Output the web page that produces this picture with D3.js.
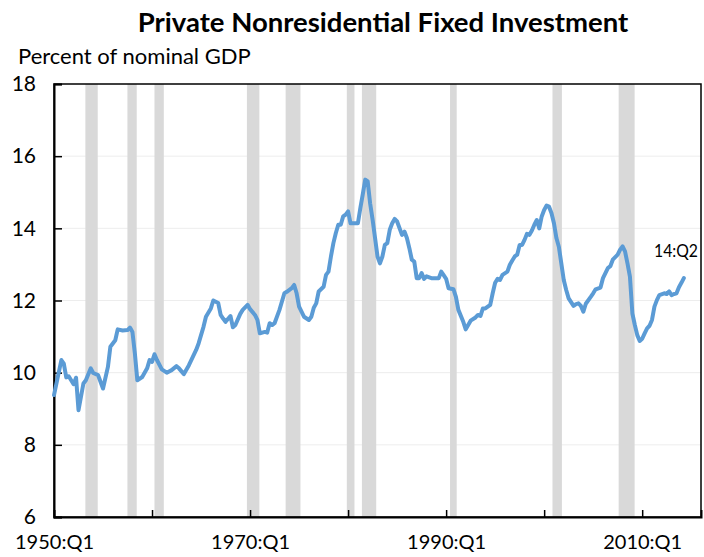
<!DOCTYPE html>
<html>
<head>
<meta charset="utf-8">
<script src="https://cdn.jsdelivr.net/npm/d3@7"></script>
<style>
  body { margin: 0; background: #fff; }
  svg text { font-family: Lato, "Open Sans", sans-serif; fill: #000; }
</style>
</head>
<body>
<div id="chart"></div>
<script>
// quarterly readings, percent of nominal GDP
const quarters = [
  "1950:Q1","1950:Q4","1951:Q1","1951:Q2","1951:Q3","1951:Q4","1952:Q1","1952:Q2","1952:Q3",
  "1953:Q1","1953:Q2","1953:Q4","1954:Q1","1954:Q3","1955:Q1","1955:Q3","1955:Q4","1956:Q2",
  "1956:Q3","1957:Q1","1957:Q3","1957:Q4","1958:Q1","1958:Q2","1958:Q3","1959:Q1","1959:Q3",
  "1959:Q4","1960:Q1","1960:Q2","1960:Q3","1961:Q1","1961:Q3","1962:Q1","1962:Q3","1962:Q4",
  "1963:Q2","1963:Q4","1964:Q3","1964:Q4","1965:Q2","1965:Q3","1966:Q1","1966:Q2","1966:Q4",
  "1967:Q1","1967:Q2","1967:Q3","1968:Q1","1968:Q2","1968:Q3","1969:Q1","1969:Q2","1969:Q4",
  "1970:Q1","1970:Q3","1970:Q4","1971:Q1","1971:Q3","1971:Q4","1972:Q1","1972:Q2","1972:Q3",
  "1973:Q1","1973:Q3","1973:Q4","1974:Q2","1974:Q3","1974:Q4","1975:Q1","1975:Q3","1976:Q1",
  "1976:Q2","1976:Q3","1976:Q4","1977:Q1","1977:Q3","1977:Q4","1978:Q1","1978:Q2","1978:Q3",
  "1978:Q4","1979:Q1","1979:Q2","1979:Q3","1979:Q4","1980:Q1","1980:Q2","1980:Q4","1981:Q1",
  "1981:Q2","1981:Q3","1981:Q4","1982:Q1","1982:Q2","1982:Q3","1982:Q4","1983:Q1","1983:Q2",
  "1983:Q3","1983:Q4","1984:Q1","1984:Q2","1984:Q3","1984:Q4","1985:Q1","1985:Q3","1985:Q4",
  "1986:Q1","1986:Q2","1986:Q3","1986:Q4","1987:Q1","1987:Q2","1987:Q3","1987:Q4","1988:Q1",
  "1988:Q3","1988:Q4","1989:Q2","1989:Q3","1989:Q4","1990:Q1","1990:Q2","1990:Q4","1991:Q1",
  "1991:Q2","1991:Q4","1992:Q1","1992:Q2","1992:Q3","1993:Q1","1993:Q2","1993:Q3","1993:Q4",
  "1994:Q1","1994:Q3","1994:Q4","1995:Q1","1995:Q2","1995:Q3","1995:Q4","1996:Q2","1996:Q3",
  "1996:Q4","1997:Q1","1997:Q2","1997:Q3","1997:Q4","1998:Q1","1998:Q2","1998:Q3","1998:Q4",
  "1999:Q1","1999:Q2","1999:Q3","1999:Q4","2000:Q1","2000:Q2","2000:Q3","2000:Q4","2001:Q1",
  "2001:Q2","2001:Q3","2001:Q4","2002:Q1","2002:Q2","2002:Q3","2003:Q1","2003:Q2","2003:Q3",
  "2003:Q4","2004:Q1","2004:Q2","2004:Q4","2005:Q1","2005:Q2","2005:Q4","2006:Q1","2006:Q2",
  "2006:Q3","2006:Q4","2007:Q1","2007:Q3","2007:Q4","2008:Q1","2008:Q2","2008:Q3","2008:Q4",
  "2009:Q1","2009:Q2","2009:Q3","2009:Q4","2010:Q1","2010:Q2","2010:Q3","2010:Q4","2011:Q1",
  "2011:Q2","2011:Q3","2011:Q4","2012:Q2","2012:Q3","2012:Q4","2013:Q1","2013:Q2","2013:Q3",
  "2013:Q4","2014:Q1","2014:Q2"
];
const investment = [
  9.38,10.35,10.25,9.87,9.90,9.79,9.68,9.86,8.96,
  9.70,9.79,10.12,9.99,9.93,9.56,10.16,10.72,10.90,
  11.20,11.17,11.18,11.25,11.13,10.53,9.79,9.88,10.12,
  10.35,10.30,10.51,10.35,10.09,10.00,10.07,10.18,10.12,
  9.96,10.20,10.63,10.81,11.27,11.55,11.78,12.00,11.93,
  11.60,11.50,11.41,11.57,11.26,11.32,11.63,11.74,11.88,
  11.76,11.60,11.46,11.09,11.13,11.11,11.37,11.32,11.37,
  11.74,12.20,12.24,12.34,12.43,12.20,11.83,11.55,11.46,
  11.55,11.80,11.92,12.25,12.38,12.71,12.80,13.22,13.59,
  13.87,14.10,14.10,14.33,14.38,14.47,14.14,14.14,14.14,
  14.56,14.95,15.35,15.30,14.69,14.24,13.73,13.22,13.03,
  13.22,13.54,13.59,13.96,14.14,14.26,14.19,13.82,13.91,
  13.73,13.45,13.13,13.08,12.62,12.62,12.76,12.60,12.67,
  12.62,12.62,12.62,12.80,12.70,12.60,12.34,12.31,12.10,
  11.74,11.41,11.20,11.32,11.44,11.53,11.60,11.57,11.78,
  11.78,11.88,12.20,12.49,12.60,12.57,12.71,12.80,12.99,
  13.11,13.22,13.27,13.54,13.54,13.68,13.85,13.82,13.94,
  14.10,14.23,14.00,14.33,14.51,14.63,14.60,14.42,14.14,
  13.73,13.49,13.03,12.57,12.29,12.06,11.85,11.90,11.92,
  11.85,11.69,11.91,12.10,12.20,12.31,12.36,12.62,12.76,
  12.90,12.95,13.13,13.27,13.41,13.50,13.36,13.03,12.66,
  11.64,11.32,11.04,10.88,10.94,11.09,11.23,11.30,11.46,
  11.83,12.01,12.15,12.20,12.18,12.25,12.15,12.18,12.20,
  12.37,12.49,12.62
];

// recession shading, decimal years
const recessionStart = [1953.20, 1957.49, 1960.25, 1969.68, 1973.63, 1979.87, 1981.41, 1990.40, 2000.85, 2007.60];
const recessionEnd   = [1954.46, 1958.44, 1961.20, 1970.95, 1975.14, 1980.65, 1982.87, 1991.08, 2001.81, 2009.23];

const yTicks = [6, 8, 10, 12, 14, 16, 18];
const xTickYears = [1960, 1970, 1980, 1990, 2000, 2010];
const xLabelYears = [1950, 1970, 1990, 2010];

const width = 704, height = 557;
const margin = {top: 84, right: 3, bottom: 40, left: 54};

const svg = d3.select("#chart").append("svg")
  .attr("width", width)
  .attr("height", height);

// quarter index from 1950:Q1
const qIndex = s => (+s.slice(0, 4) - 1950) * 4 + (+s.slice(6) - 1);
const yearToQ = y => (y - 1950) * 4;

const x = d3.scaleLinear()
  .domain([0, 264])
  .range([margin.left, width - margin.right]);
const y = d3.scaleLinear()
  .domain([6, 18])
  .range([height - margin.bottom, margin.top]);

// gridlines
svg.append("g")
  .selectAll("line")
  .data(yTicks.slice(1, -1))
  .join("line")
  .attr("x1", margin.left).attr("x2", width - margin.right)
  .attr("y1", d => y(d)).attr("y2", d => y(d))
  .attr("stroke", "#ededed")
  .attr("stroke-width", 1);

// recessions
svg.append("g")
  .selectAll("rect")
  .data(recessionStart.map((s, i) => [s, recessionEnd[i]]))
  .join("rect")
  .attr("x", d => x(yearToQ(d[0])))
  .attr("width", d => x(yearToQ(d[1])) - x(yearToQ(d[0])))
  .attr("y", margin.top)
  .attr("height", y(6) - margin.top)
  .attr("fill", "#d9d9d9");

// plot frame
svg.append("rect")
  .attr("x", margin.left).attr("y", margin.top)
  .attr("width", width - margin.right - margin.left)
  .attr("height", y(6) - margin.top)
  .attr("fill", "none")
  .attr("stroke", "#000")
  .attr("stroke-width", 1.5);

// y axis
const yAxis = svg.append("g")
  .attr("transform", "translate(" + margin.left + ",0)")
  .call(d3.axisLeft(y).tickValues(yTicks).tickSize(-8).tickPadding(18));
yAxis.select(".domain").attr("stroke", "#000").attr("stroke-width", 2);
yAxis.selectAll(".tick line").attr("stroke", "#000").attr("stroke-width", 1.5);
yAxis.selectAll("text").attr("font-size", 21).attr("font-family", "Lato, sans-serif");

// x axis ticks every 10 years
const xAxis = svg.append("g")
  .attr("transform", "translate(0," + y(6) + ")")
  .call(d3.axisBottom(x).tickValues(xTickYears.map(yearToQ)).tickSize(-7).tickFormat(""));
xAxis.select(".domain").attr("stroke", "#000").attr("stroke-width", 2);
xAxis.selectAll(".tick line").attr("stroke", "#000").attr("stroke-width", 1.5);

// x labels every 20 years
svg.append("g")
  .attr("transform", "translate(0," + y(6) + ")")
  .call(d3.axisBottom(x).tickValues(xLabelYears.map(yearToQ)).tickSize(0).tickPadding(18)
    .tickFormat(d => (1950 + d / 4) + ":Q1"))
  .call(g => g.select(".domain").remove())
  .selectAll("text").attr("font-size", 20).attr("font-family", "Lato, sans-serif");

// series line
const line = d3.line()
  .x((d, i) => x(qIndex(quarters[i])))
  .y(d => y(d))
  .curve(d3.curveLinear);

svg.append("path")
  .datum(investment)
  .attr("d", line)
  .attr("fill", "none")
  .attr("stroke", "#5b9bd5")
  .attr("stroke-width", 4)
  .attr("stroke-linejoin", "round")
  .attr("stroke-linecap", "round");

// end label
svg.append("text")
  .attr("x", 698)
  .attr("y", y(13.2))
  .attr("text-anchor", "end")
  .attr("font-size", 18)
  .attr("textLength", 44)
  .attr("lengthAdjust", "spacingAndGlyphs")
  .text("14:Q2");

// titles
svg.append("text")
  .attr("x", 383)
  .attr("y", 32)
  .attr("text-anchor", "middle")
  .attr("font-size", 27.5)
  .attr("font-weight", "bold")
  .text("Private Nonresidential Fixed Investment");

svg.append("text")
  .attr("x", 18)
  .attr("y", 64)
  .attr("font-size", 22)
  .text("Percent of nominal GDP");
</script>
</body>
</html>
